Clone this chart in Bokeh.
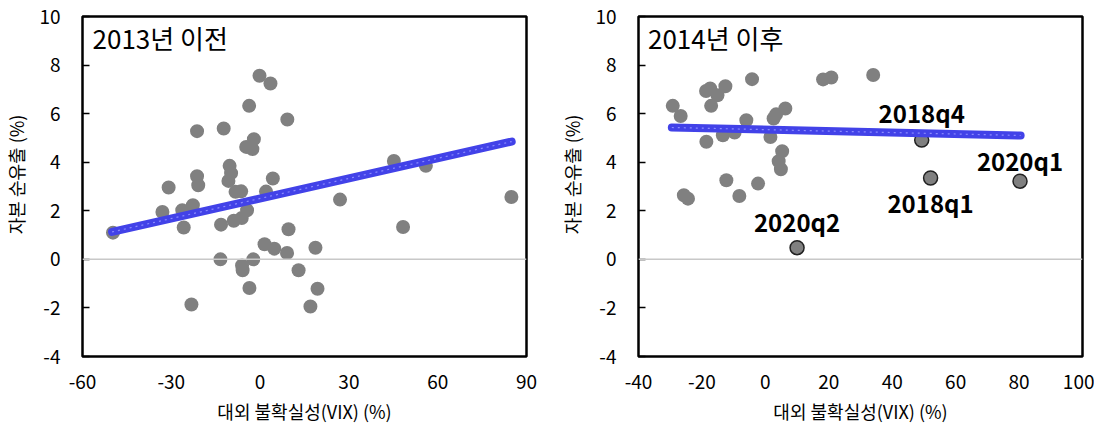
from bokeh.plotting import figure
from bokeh.layouts import row
from bokeh.models import FixedTicker, Span, Label, ColumnDataSource, CustomJSTickFormatter
from bokeh.core.properties import value
from bokeh.embed import file_html
from bokeh.resources import INLINE

# ---- data: before 2013 ----
pre_x = [-49.7, -30.9, -33.0, -26.3, -25.8, -22.7, -21.3, -21.3, -20.9, -23.2,
         -12.3, -13.2, -13.4, -10.3, -9.8, -10.7, -8.3, -6.4, -8.9, -6.2,
         -4.4, -6.1, -5.9, -3.6, -2.3, -3.7, -0.2, 3.5, -4.7, -2.1,
         -2.6, 2.0, 4.3, 1.5, 4.8, 9.2, 9.6, 9.1, 18.7, 13.0,
         19.4, 17.0, 27.0, 45.2, 56.0, 48.3, 84.9]
pre_y = [1.10, 2.96, 1.95, 2.02, 1.31, 2.23, 5.28, 3.42, 3.05, -1.86,
         5.39, 1.43, 0.00, 3.85, 3.55, 3.23, 2.78, 2.80, 1.59, 1.70,
         2.02, -0.25, -0.45, -1.18, 0.00, 6.32, 7.56, 7.24, 4.63, 4.95,
         4.54, 2.79, 3.33, 0.62, 0.44, 5.76, 1.24, 0.26, 0.48, -0.45,
         -1.21, -1.94, 2.46, 4.05, 3.85, 1.33, 2.57]
trend_pre_x = [-50.0, 85.0]
trend_pre_y = [1.13, 4.85]

# ---- data: after 2014 ----
post_x = [-29.2, -26.7, -25.7, -24.4, -18.7, -17.4, -15.1, -12.6, -17.1, -18.6,
          -13.4, -9.7, -12.3, -8.2, -6.0, -4.2, -2.3, 1.6, 2.6, 3.4,
          6.3, 5.3, 4.2, 4.9, 18.2, 20.8, 34.0]
post_y = [6.32, 5.90, 2.64, 2.50, 6.93, 7.04, 6.76, 7.13, 6.32, 4.84,
          5.11, 5.22, 3.26, 2.61, 5.73, 7.42, 3.12, 5.04, 5.80, 5.97,
          6.21, 4.45, 4.04, 3.71, 7.41, 7.49, 7.59]
hl_labels = ["2018q4", "2018q1", "2020q1", "2020q2"]
hl_x = [49.3, 52.1, 80.3, 10.0]
hl_y = [4.91, 3.35, 3.22, 0.48]
trend_post_x = [-29.5, 80.5]
trend_post_y = [5.43, 5.10]

y_ticks = [-4, -2, 0, 2, 4, 6, 8, 10]
pre_x_ticks = [-60, -30, 0, 30, 60, 90]
post_x_ticks = [-40, -20, 0, 20, 40, 60, 80, 100]

FONT = "Noto Sans CJK KR"
GRAY = "#808080"
BLUE = "#4242E8"
NB = "\u00a0"


def make_fig(xr, xticks, title, title_x, border_left, border_right):
    p = figure(x_range=xr, y_range=(-4, 10),
               output_backend="svg", toolbar_location=None,
               min_border_left=border_left, min_border_right=border_right,
               min_border_top=16, min_border_bottom=8)
    p.frame_width = 444
    p.frame_height = 340
    p.grid.visible = False
    p.outline_line_color = "black"
    p.outline_line_width = 2.5
    p.background_fill_color = "white"
    p.border_fill_color = "white"

    p.yaxis.ticker = FixedTicker(ticks=y_ticks)
    p.xaxis.ticker = FixedTicker(ticks=xticks)
    p.yaxis.formatter = CustomJSTickFormatter(code="return tick.toString();")
    p.xaxis.formatter = CustomJSTickFormatter(code="return tick.toString();")
    for ax in (p.xaxis, p.yaxis):
        ax.axis_line_color = None
        ax.minor_tick_line_color = None
        ax.major_label_text_font = FONT
        ax.major_label_text_color = "black"
        ax.axis_label_text_font = FONT
        ax.axis_label_text_font_style = "normal"
        ax.axis_label_text_color = "black"
    p.yaxis.major_tick_in = 7
    p.yaxis.major_tick_out = 0
    p.yaxis.major_tick_line_color = "black"
    p.yaxis.major_tick_line_width = 1.5
    p.yaxis.major_label_standoff = 22
    p.yaxis.major_label_text_font_size = "19px"
    p.yaxis.axis_label = NB * 6 + "자본 순유출 (%)"
    p.yaxis.axis_label_text_font_size = "18px"
    p.yaxis.axis_label_standoff = 7

    p.xaxis.major_tick_in = 0
    p.xaxis.major_tick_out = 0
    p.xaxis.major_label_standoff = 18
    p.xaxis.major_label_text_font_size = "19px"
    p.xaxis.axis_label = "대외 불확실성(VIX) (%)"
    p.xaxis.axis_label_text_font_size = "18px"
    p.xaxis.axis_label_standoff = 6

    p.add_layout(Span(location=0, dimension="width", line_color="#c8c8c8", line_width=1.5))
    p.add_layout(Label(x=title_x, y=9.9, text=title, text_font=FONT,
                       text_font_size="26px", text_baseline="top", text_color="black"))
    return p


p1 = make_fig((-60, 90), pre_x_ticks, "2013년 이전", -56.6, 76, 28)
p1.scatter(pre_x, pre_y, size=14, fill_color=GRAY, line_color=None)
p1.line(trend_pre_x, trend_pre_y, line_color=BLUE, line_width=8, line_cap="round")
p1.line(trend_pre_x, trend_pre_y, line_color="#8a8aff", line_width=1.2, line_dash="2 4")

p2 = make_fig((-40, 100), post_x_ticks, "2014년 이후", -37.0, 84, 12)
p2.scatter(post_x, post_y, size=14, fill_color=GRAY, line_color=None)
src = ColumnDataSource(dict(x=hl_x, y=hl_y, t=hl_labels,
                            dy=[-28, 24, -21, -26]))
p2.scatter("x", "y", source=src, size=14, fill_color=GRAY, line_color="#222222", line_width=1.5)
p2.line(trend_post_x, trend_post_y, line_color=BLUE, line_width=8, line_cap="round")
p2.line(trend_post_x, trend_post_y, line_color="#8a8aff", line_width=1.2, line_dash="2 4")
p2.text("x", "y", text="t", source=src, y_offset="dy", text_align="center",
        text_baseline="middle", text_font=value(FONT), text_font_style="bold",
        text_font_size="24px", text_color="black")

layout = row(p1, p2, spacing=0)
open("out.html", "w").write(file_html(layout, INLINE))
